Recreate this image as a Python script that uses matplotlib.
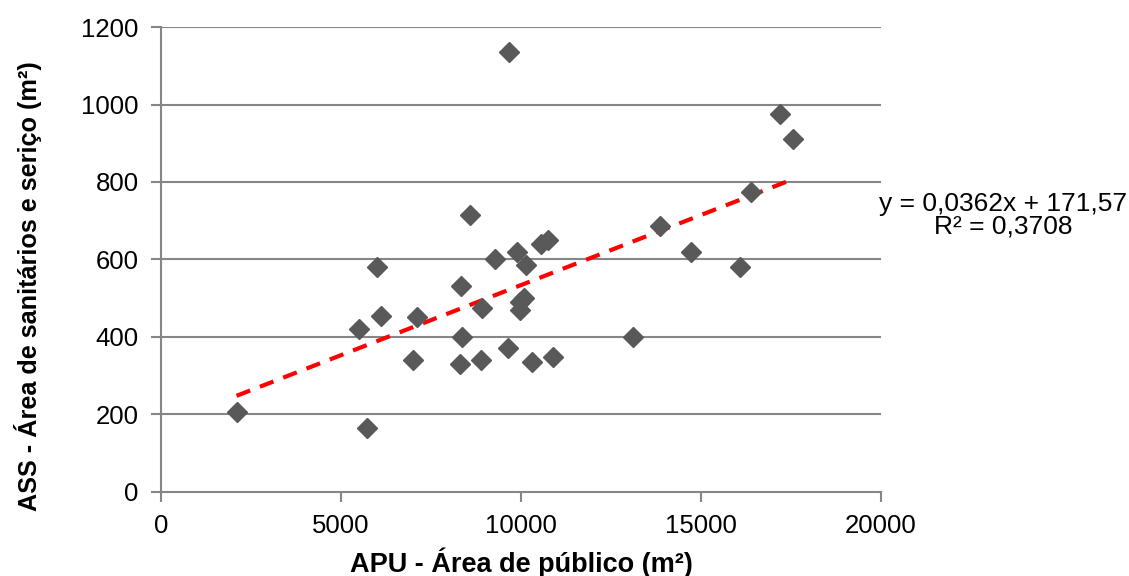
import matplotlib.pyplot as plt
import numpy as np

plt.rcParams['font.family'] = ['Liberation Sans', 'DejaVu Sans']

# APU - área de público (m²)
apu = [2100, 5720, 5500, 6000, 6100, 7000, 7100, 8300, 8350, 8330,
       8580, 8900, 8920, 9280, 9670, 9630, 9880, 10130, 9970, 10090,
       9970, 10300, 10900, 10570, 10760, 13120, 13860, 14730, 16080, 16400,
       17200, 17550]
# ASS - área de sanitários e serviço (m²)
ass = [205, 165, 420, 580, 455, 340, 450, 330, 400, 530,
       715, 340, 475, 600, 1135, 370, 620, 585, 490, 500,
       468, 335, 348, 640, 650, 400, 687, 620, 580, 773,
       975, 910]

# linha de tendência (Excel)
slope = 0.0362
intercept = 171.57
eq_text = 'y = 0,0362x + 171,57\nR² = 0,3708'

xticks = [0, 5000, 10000, 15000, 20000]
yticks = [0, 200, 400, 600, 800, 1000, 1200]

gray = '#868686'

fig = plt.figure(figsize=(11.29, 5.76), dpi=100)
ax = fig.add_axes([0.1426, 0.1464, 0.6377, 0.8066])

for y in yticks[1:]:
    ax.axhline(y, color=gray, lw=1.5, zorder=1)

x = np.array(apu)
xs = np.array([x.min(), x.max()])
ax.plot(xs, slope * xs + intercept, color='#ff0000', lw=3, ls=(0, (3.5, 2.5)), zorder=2)
ax.plot(apu, ass, 'D', color='#595959', ms=10.5, mec='#595959', zorder=3)

ax.set_xlim(0, 20000)
ax.set_ylim(0, 1200)
ax.set_xticks(xticks)
ax.set_yticks(yticks)

for s in ['top', 'right']:
    ax.spines[s].set_visible(False)
for s in ['left', 'bottom']:
    ax.spines[s].set_color(gray)
    ax.spines[s].set_linewidth(1.5)
ax.tick_params(axis='both', colors=gray, labelcolor='black', labelsize=18.5,
               length=7, width=1.5, pad=9)

ax.set_xlabel('APU - Área de público (m²)', fontsize=19.5, fontweight='bold',
              va='center', ha='center')
ax.xaxis.set_label_coords(0.5, -0.1535)
ax.set_ylabel('ASS - Área de sanitários e seriço (m²)', fontsize=18.2, fontweight='bold',
              va='center', ha='center')
ax.yaxis.set_label_coords(-0.1847, 0.4427)

ax.text(23390, 714, eq_text, fontsize=19, ha='center', va='center',
        multialignment='center', linespacing=0.95, clip_on=False)

fig.savefig('out.png', dpi=100)
